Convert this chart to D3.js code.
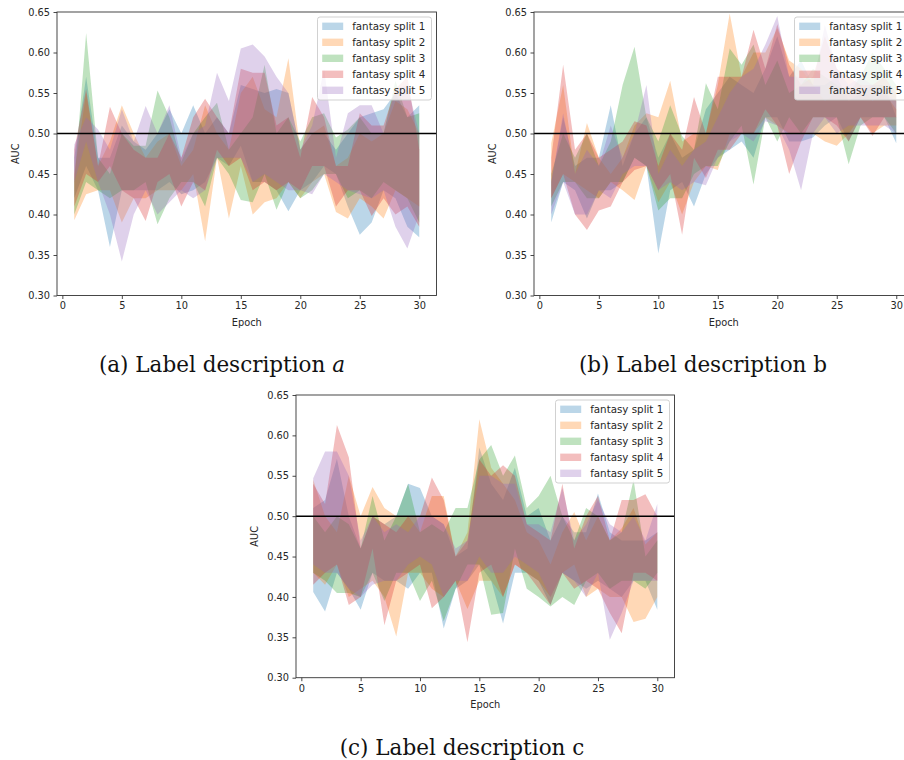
<!DOCTYPE html>
<html>
<head>
<meta charset="utf-8">
<script src="https://cdn.jsdelivr.net/npm/d3@7"></script>
<style>
  body { margin: 0; background: #fff; }
  svg { display: block; }
</style>
</head>
<body>
<div class="chart"></div>
<script>
// epochs + ticks
var epochs = [1,2,3,4,5,6,7,8,9,10,11,12,13,14,15,16,17,18,19,20,21,22,23,24,25,26,27,28,29,30];
var xTicks = [0,5,10,15,20,25,30];
var yTicks = [0.30,0.35,0.40,0.45,0.50,0.55,0.60,0.65];
var seriesNames = ["fantasy split 1","fantasy split 2","fantasy split 3","fantasy split 4","fantasy split 5"];
var colors = ["#1f77b4","#ff7f0e","#2ca02c","#d62728","#9467bd"];
var captions = ["(a) Label description ", "(b) Label description b", "(c) Label description c"];

// panel a (low / high of each split)
var a1Hi = [.47,.57,.47,.47,.51,.49,.48,.50,.53,.50,.535,.50,.52,.50,.56,.555,.55,.555,.55,.48,.50,.50,.48,.50,.52,.525,.53,.55,.52,.535];
var a1Lo = [.42,.46,.43,.36,.43,.43,.43,.43,.44,.425,.43,.44,.47,.46,.485,.44,.44,.43,.404,.43,.44,.46,.45,.41,.375,.39,.43,.42,.385,.372];
var a2Hi = [.45,.55,.46,.49,.535,.50,.47,.49,.50,.46,.48,.535,.50,.48,.55,.57,.53,.52,.593,.48,.50,.51,.46,.47,.50,.49,.50,.54,.53,.50];
var a2Lo = [.393,.425,.43,.43,.39,.42,.42,.43,.43,.43,.45,.367,.47,.395,.46,.40,.415,.42,.44,.42,.44,.45,.403,.395,.42,.41,.395,.43,.42,.41];
var a3Hi = [.44,.624,.47,.45,.50,.485,.485,.553,.52,.465,.50,.52,.538,.48,.50,.52,.585,.50,.52,.49,.52,.525,.495,.505,.52,.50,.50,.565,.52,.525];
var a3Lo = [.40,.44,.43,.42,.43,.43,.44,.388,.42,.44,.44,.41,.47,.45,.418,.415,.45,.406,.44,.42,.43,.45,.45,.42,.43,.42,.44,.43,.42,.39];
var a4Hi = [.48,.555,.46,.533,.50,.48,.47,.47,.50,.47,.52,.543,.52,.50,.58,.575,.575,.51,.52,.47,.545,.52,.46,.46,.525,.51,.51,.555,.57,.48];
var a4Lo = [.41,.45,.44,.46,.43,.42,.392,.44,.45,.41,.44,.43,.48,.46,.47,.43,.44,.43,.44,.43,.46,.46,.41,.43,.43,.398,.42,.40,.41,.385];
var a5Hi = [.486,.52,.505,.48,.53,.49,.534,.50,.535,.47,.50,.51,.575,.54,.605,.61,.595,.57,.55,.48,.51,.58,.47,.525,.535,.535,.50,.555,.56,.50];
var a5Lo = [.44,.49,.44,.40,.342,.40,.43,.40,.415,.43,.42,.43,.47,.47,.47,.44,.45,.44,.43,.43,.425,.45,.44,.43,.425,.42,.43,.385,.358,.40];

// panel b
var b1Hi = [.44,.52,.46,.47,.47,.535,.46,.50,.52,.47,.50,.47,.48,.53,.55,.57,.56,.55,.58,.62,.57,.59,.56,.56,.57,.54,.55,.56,.56,.52];
var b1Lo = [.39,.44,.43,.395,.43,.43,.44,.47,.46,.352,.43,.44,.41,.45,.47,.48,.49,.47,.52,.52,.49,.49,.495,.51,.52,.49,.52,.52,.52,.488];
var b2Hi = [.488,.56,.45,.513,.47,.45,.47,.51,.525,.52,.565,.49,.50,.50,.56,.648,.57,.60,.60,.63,.59,.58,.56,.54,.55,.55,.56,.54,.55,.53];
var b2Lo = [.42,.45,.44,.43,.42,.44,.43,.418,.46,.415,.44,.40,.44,.46,.455,.50,.50,.50,.52,.51,.50,.50,.50,.49,.485,.50,.52,.50,.51,.51];
var b3Hi = [.45,.50,.47,.50,.46,.49,.56,.607,.52,.49,.535,.497,.48,.562,.53,.605,.585,.61,.56,.59,.55,.56,.58,.57,.56,.55,.57,.60,.58,.56];
var b3Lo = [.41,.44,.44,.42,.42,.44,.44,.47,.46,.405,.42,.42,.45,.46,.46,.49,.51,.437,.52,.49,.52,.50,.52,.52,.52,.462,.51,.52,.52,.50];
var b4Hi = [.47,.585,.48,.50,.47,.48,.49,.515,.51,.46,.50,.48,.545,.50,.57,.57,.57,.628,.58,.635,.585,.56,.57,.62,.58,.57,.56,.56,.57,.55];
var b4Lo = [.42,.45,.40,.381,.405,.41,.44,.455,.46,.43,.45,.375,.47,.445,.48,.48,.50,.50,.53,.51,.45,.49,.52,.52,.51,.49,.52,.497,.52,.52];
var b5Hi = [.44,.525,.45,.48,.46,.51,.47,.50,.56,.45,.48,.46,.48,.49,.52,.55,.57,.58,.61,.645,.57,.57,.56,.634,.58,.56,.57,.56,.55,.54];
var b5Lo = [.40,.44,.40,.40,.43,.42,.45,.46,.46,.43,.44,.43,.44,.436,.47,.49,.50,.49,.515,.51,.48,.43,.50,.52,.50,.51,.51,.51,.51,.50];

// panel c
var c1Hi = [.51,.52,.571,.50,.46,.50,.49,.50,.54,.535,.50,.49,.45,.46,.585,.54,.52,.56,.50,.51,.47,.50,.48,.48,.528,.48,.47,.47,.47,.48];
var c1Lo = [.406,.382,.43,.41,.384,.43,.42,.42,.41,.43,.43,.361,.41,.42,.44,.42,.367,.43,.43,.42,.39,.43,.42,.41,.42,.41,.40,.42,.42,.384];
var c2Hi = [.545,.50,.48,.55,.50,.536,.51,.50,.50,.48,.525,.525,.45,.48,.62,.56,.54,.52,.48,.47,.44,.48,.505,.47,.50,.47,.485,.51,.465,.48];
var c2Lo = [.43,.415,.44,.40,.41,.42,.40,.351,.43,.43,.41,.40,.42,.385,.42,.42,.40,.44,.43,.42,.40,.43,.44,.40,.41,.40,.40,.369,.373,.40];
var c3Hi = [.50,.48,.50,.49,.46,.525,.47,.50,.54,.48,.49,.48,.51,.51,.57,.588,.55,.575,.51,.525,.55,.50,.47,.51,.50,.47,.48,.545,.45,.47];
var c3Lo = [.43,.42,.405,.405,.40,.43,.395,.43,.43,.395,.42,.37,.41,.44,.44,.378,.38,.46,.41,.40,.388,.40,.39,.42,.43,.41,.42,.42,.41,.43];
var c4Hi = [.54,.515,.613,.573,.46,.50,.49,.48,.50,.50,.548,.52,.45,.47,.57,.55,.563,.55,.49,.48,.47,.54,.46,.50,.525,.47,.52,.52,.527,.50];
var c4Lo = [.415,.43,.44,.39,.40,.46,.365,.42,.43,.44,.386,.40,.42,.344,.43,.44,.40,.44,.43,.41,.39,.43,.41,.42,.41,.38,.355,.43,.43,.42];
var c5Hi = [.547,.58,.58,.55,.47,.50,.48,.49,.48,.50,.50,.49,.46,.47,.55,.55,.54,.54,.49,.49,.48,.535,.47,.49,.52,.49,.48,.50,.47,.515];
var c5Lo = [.44,.43,.43,.41,.40,.415,.42,.42,.44,.45,.44,.40,.42,.42,.45,.43,.43,.45,.44,.43,.40,.43,.42,.40,.43,.347,.38,.42,.42,.42];

var width = 904;
var height = 760;

const svg = d3.select(".chart")
              .append("svg")
              .attr("width", width)
              .attr("height", height)
              .style("background", "#fff");

// where each axes box sits
var panels = [
  {left: 57,  top: 12,  w: 379.5, h: 283.5, lo: [a1Lo,a2Lo,a3Lo,a4Lo,a5Lo], hi: [a1Hi,a2Hi,a3Hi,a4Hi,a5Hi]},
  {left: 534, top: 12,  w: 379.5, h: 283.5, lo: [b1Lo,b2Lo,b3Lo,b4Lo,b5Lo], hi: [b1Hi,b2Hi,b3Hi,b4Hi,b5Hi]},
  {left: 296, top: 395, w: 378.5, h: 282.7, lo: [c1Lo,c2Lo,c3Lo,c4Lo,c5Lo], hi: [c1Hi,c2Hi,c3Hi,c4Hi,c5Hi]}
];

var sans = "'DejaVu Sans', sans-serif";

panels.forEach(function(p, k) {
  var g = svg.append("g")
             .attr("transform", "translate(" + p.left + "," + p.top + ")");

  var xScale = d3.scaleLinear().domain([-0.45, 31.45]).range([0, p.w]);
  var yScale = d3.scaleLinear().domain([0.30, 0.65]).range([p.h, 0]);

  g.append("clipPath")
   .attr("id", "clip" + k)
   .append("rect")
   .attr("width", p.w)
   .attr("height", p.h);

  var plot = g.append("g").attr("clip-path", "url(#clip" + k + ")");

  // bands, drawn in order like fill_between
  p.lo.forEach(function(lo, s) {
    var hi = p.hi[s];
    var area = d3.area()
                 .x((d, i) => xScale(epochs[i]))
                 .y0((d, i) => yScale(lo[i]))
                 .y1((d, i) => yScale(hi[i]));
    plot.append("path")
        .datum(epochs)
        .attr("d", area)
        .attr("fill", colors[s])
        .attr("fill-opacity", 0.3);
  });

  // 0.5 reference line
  plot.append("line")
      .attr("x1", 0)
      .attr("x2", p.w)
      .attr("y1", yScale(0.5))
      .attr("y2", yScale(0.5))
      .attr("stroke", "#000")
      .attr("stroke-width", 1.5);

  const xAxis = d3.axisBottom(xScale)
                  .tickValues(xTicks)
                  .tickFormat(d3.format("d"))
                  .tickSize(3.5)
                  .tickPadding(3.5);
  const yAxis = d3.axisLeft(yScale)
                  .tickValues(yTicks)
                  .tickFormat(d3.format(".2f"))
                  .tickSize(3.5)
                  .tickPadding(3.5);

  var gx = g.append("g")
            .attr("transform", "translate(0," + p.h + ")")
            .call(xAxis);
  var gy = g.append("g").call(yAxis);

  [gx, gy].forEach(function(a) {
    a.select(".domain").remove();
    a.selectAll(".tick line").attr("stroke", "#333").attr("stroke-width", 0.9);
    a.selectAll(".tick text")
     .attr("fill", "#262626")
     .style("font-family", sans)
     .style("font-size", "9.8px");
  });

  // spines
  g.append("rect")
   .attr("width", p.w)
   .attr("height", p.h)
   .attr("fill", "none")
   .attr("stroke", "#333")
   .attr("stroke-width", 0.9);

  g.append("text")
   .attr("x", p.w / 2)
   .attr("y", p.h + 30.5)
   .attr("text-anchor", "middle")
   .attr("fill", "#262626")
   .style("font-family", sans)
   .style("font-size", "9.8px")
   .text("Epoch");

  g.append("text")
   .attr("transform", "translate(-38," + (p.h / 2) + ") rotate(-90)")
   .attr("text-anchor", "middle")
   .attr("fill", "#262626")
   .style("font-family", sans)
   .style("font-size", "9.8px")
   .text("AUC");

  // legend
  var lw = 114, lh = 83;
  var legend = g.append("g")
                .attr("transform", "translate(" + (p.w - 5 - lw) + ",5)");
  legend.append("rect")
        .attr("width", lw)
        .attr("height", lh)
        .attr("rx", 2.5)
        .attr("fill", "#fff")
        .attr("fill-opacity", 0.8)
        .attr("stroke", "#ccc")
        .attr("stroke-width", 0.9);
  seriesNames.forEach(function(name, i) {
    var cy = 9.3 + i * 16;
    legend.append("rect")
          .attr("x", 4.7)
          .attr("y", cy - 3.7)
          .attr("width", 21)
          .attr("height", 7.4)
          .attr("fill", colors[i])
          .attr("fill-opacity", 0.3);
    legend.append("text")
          .attr("x", 34.7)
          .attr("y", cy + 3.7)
          .attr("fill", "#262626")
          .style("font-family", sans)
          .style("font-size", "10.3px")
          .text(name);
  });
});

// captions under each panel
var serif = "'DejaVu Serif', serif";
var capPos = [[222, 372], [703, 372], [462, 755]];
captions.forEach(function(c, i) {
  var t = svg.append("text")
             .attr("x", capPos[i][0])
             .attr("y", capPos[i][1])
             .attr("text-anchor", "middle")
             .attr("fill", "#111")
             .style("font-family", serif)
             .style("font-size", "21.5px")
             .text(c);
  if (i === 0) {
    t.append("tspan").style("font-style", "italic").text("a");
  }
});
</script>
</body>
</html>
